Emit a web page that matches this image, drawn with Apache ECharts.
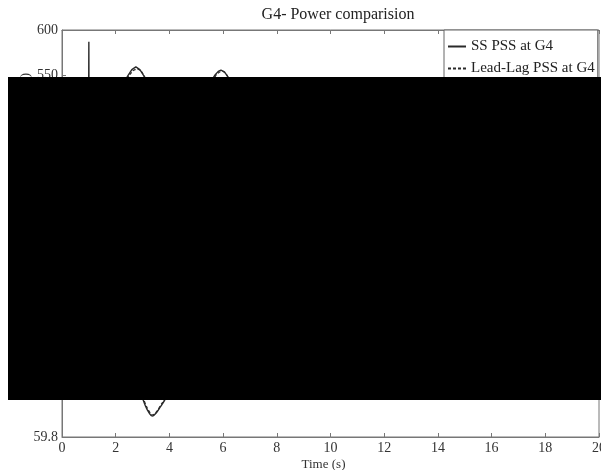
<!DOCTYPE html>
<html>
<head>
<meta charset="utf-8">
<script src="https://cdn.jsdelivr.net/npm/echarts@6/dist/echarts.min.js"></script>
<style>html,body{margin:0;padding:0;background:#fff;}#c{width:601px;height:470px;}</style>
</head>
<body>
<div id="c"></div>
<script>
// ---- data ----
const xTicks = [0, 2, 4, 6, 8, 10, 12, 14, 16, 18, 20];
const powerTicks = [550, 600];
const freqTicks = [59.8, 59.9];
const seriesNames = ['SS PSS at G4', 'Lead-Lag PSS at G4'];

const ssTime = [0, 0.5, 0.99, 1.0, 1.01, 1.2, 1.6, 2.0, 2.3, 2.45, 2.6, 2.75, 2.9, 3.05, 3.2, 3.6, 4.0, 4.4, 4.8, 5.2, 5.55, 5.7, 5.82, 5.92, 6.05, 6.2, 6.35, 6.8, 7.3, 7.8, 8.3, 8.8, 9.3, 9.8, 10.5, 11.5, 12.5, 14, 16, 18, 20];
const ssPower = [500, 500, 500, 587, 470, 450, 480, 515, 541, 549, 556, 559, 556, 549, 539, 505, 470, 455, 470, 505, 543, 550, 554, 555.5, 553.5, 547, 538, 510, 485, 478, 492, 512, 520, 512, 498, 494, 502, 500, 500, 500, 500];

const llTime = [0, 0.5, 0.99, 1.0, 1.01, 1.2, 1.6, 2.0, 2.35, 2.5, 2.65, 2.8, 2.95, 3.1, 3.25, 3.6, 4.0, 4.4, 4.8, 5.2, 5.6, 5.75, 5.88, 6.0, 6.12, 6.25, 6.5, 7.0, 7.5, 8.0, 8.5, 9.0, 9.5, 10, 11, 12, 13, 14, 16, 18, 20];
const llPower = [500, 500, 500, 540, 468, 448, 478, 512, 541, 549.5, 555, 557, 554.5, 547, 537, 508, 474, 458, 468, 500, 543, 550.5, 553.5, 554, 551, 544, 525, 495, 475, 470, 485, 505, 518, 515, 500, 490, 497, 502, 500, 500, 500];

const freqTime = [0, 1.0, 1.05, 1.5, 2.0, 2.5, 2.8, 2.95, 3.1, 3.25, 3.36, 3.5, 3.65, 3.85, 4.1, 4.6, 5.2, 5.8, 6.4, 7.0, 7.6, 8.2, 9, 10, 11, 12, 14, 16, 18, 20];
const freqSS = [60, 60, 60.02, 60.08, 60.1, 60.02, 59.94, 59.905, 59.877, 59.858, 59.851, 59.858, 59.872, 59.893, 59.93, 60.0, 60.05, 60.04, 60.0, 59.97, 59.97, 60.0, 60.02, 60.0, 59.99, 60, 60, 60, 60, 60];
const freqLL = [60, 60, 60.02, 60.07, 60.09, 60.03, 59.95, 59.912, 59.882, 59.862, 59.854, 59.86, 59.875, 59.897, 59.935, 60.0, 60.04, 60.04, 60.01, 59.98, 59.97, 59.99, 60.01, 60.0, 59.995, 60, 60, 60, 60, 60];

const zip = (a, b) => a.map((t, i) => [t, b[i]]);
const FONT = 'Liberation Serif';
const axisCol = '#777';
const lineCol = '#2a2a2a';

function xAx(grid, pos, labels, name) {
  return {
    type: 'value', gridIndex: grid, position: pos, min: 0, max: 20, interval: 2,
    axisLine: { show: true, lineStyle: { color: axisCol, width: 1 } },
    axisTick: { show: true, inside: true, length: 4, lineStyle: { color: axisCol } },
    splitLine: { show: false },
    axisLabel: { show: labels, color: '#333', fontFamily: FONT, fontSize: 14, margin: 4 },
    name: name || '', nameLocation: 'middle', nameGap: 21,
    nameTextStyle: { color: '#333', fontFamily: FONT, fontSize: 13, padding: [0, 14, 0, 0] }
  };
}

const option = {
  animation: false,
  backgroundColor: '#fff',
  title: {
    text: 'G4- Power comparision', left: 333, top: 2, textAlign: 'center',
    textStyle: { fontFamily: FONT, fontSize: 16, fontWeight: 'normal', color: '#222' }
  },
  legend: {
    orient: 'vertical', left: 444, top: 30, data: seriesNames,
    backgroundColor: '#fff', borderColor: '#666', borderWidth: 1,
    padding: [9, 3, 8, 3], itemGap: 7, itemWidth: 18, itemHeight: 16,
    itemStyle: { opacity: 0 },
    textStyle: { fontFamily: FONT, fontSize: 15, color: '#222' }, z: 5
  },
  grid: [
    { left: 62, top: 30, width: 537, height: 90, show: true, borderColor: axisCol, borderWidth: 1, outerBoundsMode: 'none', containLabel: false },
    { left: 62, top: 396, width: 537, height: 41, show: true, borderColor: axisCol, borderWidth: 1, outerBoundsMode: 'none', containLabel: false }
  ],
  xAxis: [
    xAx(0, 'bottom', false), xAx(0, 'top', false),
    xAx(1, 'bottom', true, 'Time (s)'), xAx(1, 'top', false)
  ],
  yAxis: [
    {
      type: 'value', gridIndex: 0, min: 500, max: 600, interval: 50,
      axisLine: { show: true, lineStyle: { color: axisCol } },
      axisTick: { show: true, inside: true, length: 4, lineStyle: { color: axisCol } },
      splitLine: { show: false },
      axisLabel: { color: '#333', fontFamily: FONT, fontSize: 14, margin: 4,
        formatter: v => powerTicks.includes(v) ? String(v) : '' }
    },
    {
      type: 'value', gridIndex: 1, min: 59.8, max: 59.9, interval: 0.1,
      axisLine: { show: true, lineStyle: { color: axisCol } },
      axisTick: { show: true, inside: true, length: 4, lineStyle: { color: axisCol } },
      splitLine: { show: false },
      axisLabel: { color: '#333', fontFamily: FONT, fontSize: 14, margin: 4,
        formatter: v => { const f = Number(v.toFixed(1)); return freqTicks.includes(f) ? f.toFixed(1) : ''; } }
    }
  ],
  series: [
    { name: seriesNames[0], type: 'line', xAxisIndex: 0, yAxisIndex: 0, data: zip(ssTime, ssPower),
      symbol: 'none', lineStyle: { color: lineCol, width: 1.4 }, itemStyle: { color: lineCol }, clip: true },
    { name: seriesNames[1], type: 'line', xAxisIndex: 0, yAxisIndex: 0, data: zip(llTime, llPower),
      symbol: 'none', lineStyle: { color: lineCol, width: 1.2, type: [3, 2] }, itemStyle: { color: lineCol }, clip: true },
    { name: 'SS freq', type: 'line', xAxisIndex: 2, yAxisIndex: 1, data: zip(freqTime, freqSS),
      symbol: 'none', smooth: 0.4, lineStyle: { color: lineCol, width: 1.4 }, clip: true },
    { name: 'LL freq', type: 'line', xAxisIndex: 2, yAxisIndex: 1, data: zip(freqTime, freqLL),
      symbol: 'none', smooth: 0.4, lineStyle: { color: lineCol, width: 1.2, type: [3, 2] }, clip: true }
  ],
  graphic: [
    { type: 'text', x: 26, y: 73, rotation: Math.PI / 2, z: 1,
      style: { text: 'Power (MW)', textAlign: 'right', textVerticalAlign: 'middle',
        font: '13px "Liberation Serif"', fill: '#333' } },
    { type: 'rect', z: 100, shape: { x: 8, y: 77, width: 593, height: 323 }, style: { fill: '#000' } }
  ]
};
echarts.init(document.getElementById('c'), null, { renderer: 'canvas' }).setOption(option);
</script>
</body>
</html>
